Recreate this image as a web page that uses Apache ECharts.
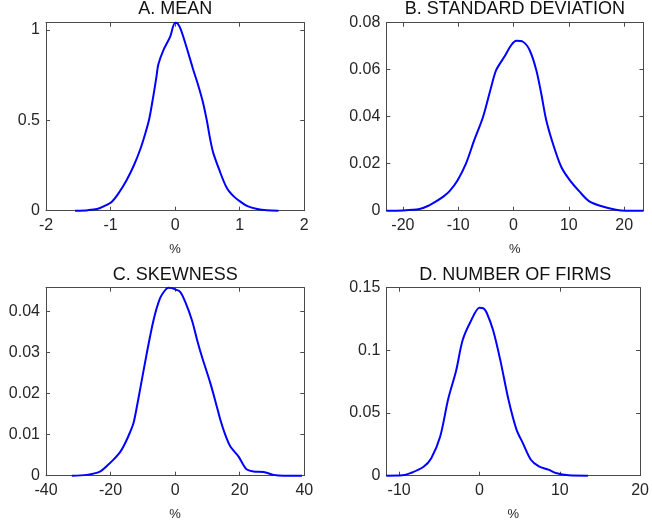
<!DOCTYPE html>
<html>
<head>
<meta charset="utf-8">
<script src="https://cdn.jsdelivr.net/npm/echarts@6/dist/echarts.min.js"></script>
<style>
  html, body { margin: 0; padding: 0; background: #fff; }
  #chart { width: 652px; height: 527px; }
</style>
</head>
<body>
<div id="chart"></div>
<script>
// Kernel density estimates of the four firm-level moments (x in %)
const meanX = [-1.55, -1.35, -1.21, -1.1, -0.98, -0.87, -0.75, -0.64, -0.54, -0.46, -0.4, -0.34, -0.29, -0.26, -0.18, -0.08, 0, 0.04, 0.09, 0.18, 0.28, 0.36, 0.43, 0.49, 0.54, 0.59, 0.7, 0.78, 0.83, 0.92, 1.01, 1.12, 1.27, 1.42, 1.6];
const meanY = [0, 0.003, 0.009, 0.025, 0.05, 0.1, 0.17, 0.25, 0.34, 0.43, 0.51, 0.63, 0.74, 0.81, 0.89, 0.96, 1.04, 1.035, 1.0, 0.9, 0.78, 0.69, 0.6, 0.5, 0.4, 0.32, 0.21, 0.14, 0.11, 0.075, 0.05, 0.025, 0.009, 0.002, 0];

const sdX = [-23, -20, -17, -15.5, -14, -12.7, -11.6, -10.1, -8.6, -7.1, -5.5, -4.0, -3.1, -1.6, -0.4, 0.5, 1.7, 2.9, 4.1, 5.0, 5.9, 7.1, 8.6, 10.1, 11.9, 13.7, 16.1, 18.5, 20.3, 23.5];
const sdY = [0, 0.0001, 0.0007, 0.002, 0.004, 0.006, 0.0082, 0.013, 0.02, 0.03, 0.04, 0.053, 0.06, 0.0657, 0.0705, 0.0723, 0.0719, 0.0684, 0.06, 0.05, 0.0387, 0.0287, 0.0188, 0.0132, 0.0082, 0.004, 0.0018, 0.0004, 0, 0];

const skewX = [-32, -27.4, -23.3, -21, -19.1, -17, -15.5, -14, -12.9, -11.8, -10.9, -8.8, -6.7, -4.7, -3, -2.1, -1, 0, 1.55, 3.1, 5.2, 6.8, 8.3, 10.9, 12.5, 14.0, 15.5, 17.1, 19.6, 21, 22.2, 24.3, 27.4, 30.5, 33.6, 39.3];
const skewY = [0, 0.0002, 0.001, 0.0025, 0.0039, 0.0058, 0.0079, 0.0105, 0.0128, 0.017, 0.0208, 0.0297, 0.0378, 0.0431, 0.0452, 0.0457, 0.0456, 0.0453, 0.0447, 0.0423, 0.0378, 0.033, 0.0289, 0.0225, 0.018, 0.0136, 0.01, 0.0071, 0.0047, 0.0028, 0.0015, 0.001, 0.0009, 0.0002, 0, 0];

const firmsX = [-11.6, -9.6, -8.6, -7.0, -6.0, -4.9, -3.9, -2.9, -2.1, -1.1, 0, 0.5, 0.9, 1.7, 2.6, 3.6, 4.6, 5.4, 6.4, 7.4, 8.6, 9.5, 11.1, 13.5];
const firmsY = [0, 0.0003, 0.002, 0.0069, 0.014, 0.031, 0.061, 0.084, 0.108, 0.123, 0.134, 0.1335, 0.13, 0.116, 0.092, 0.061, 0.037, 0.026, 0.0127, 0.0074, 0.0048, 0.0021, 0.0003, 0];

const titles = ['A. MEAN', 'B. STANDARD DEVIATION', 'C. SKEWNESS', 'D. NUMBER OF FIRMS'];

const meanXTicks = [-2, -1, 0, 1, 2];
const meanYTicks = [0, 0.5, 1];
const sdXTicks = [-20, -10, 0, 10, 20];
const sdYTicks = [0, 0.02, 0.04, 0.06, 0.08];
const skewXTicks = [-40, -20, 0, 20, 40];
const skewYTicks = [0, 0.01, 0.02, 0.03, 0.04];
const firmsXTicks = [-10, 0, 10, 20];
const firmsYTicks = [0, 0.05, 0.1, 0.15];

const FONT = '"Liberation Sans", Arial, Helvetica, sans-serif';
const AXIS_COLOR = '#4a4a4a';
const TEXT_COLOR = '#262626';

const panels = [
  { x: meanX, y: meanY, xt: meanXTicks, yt: meanYTicks, xr: [-2, 2], yr: [0, 1.04],
    box: { left: 46, top: 22.7, width: 258.3, height: 188 }, titleGap: 13.4 },
  { x: sdX, y: sdY, xt: sdXTicks, yt: sdYTicks, xr: [-23, 23.5], yr: [0, 0.08],
    box: { left: 386.3, top: 22.7, width: 257.2, height: 188 }, titleGap: 13.4 },
  { x: skewX, y: skewY, xt: skewXTicks, yt: skewYTicks, xr: [-40, 40], yr: [0, 0.0457],
    box: { left: 46, top: 287.7, width: 258.3, height: 188 }, titleGap: 12.7 },
  { x: firmsX, y: firmsY, xt: firmsXTicks, yt: firmsYTicks, xr: [-11.6, 20], yr: [0, 0.15],
    box: { left: 386.3, top: 287.7, width: 257.7, height: 188 }, titleGap: 12.7 }
];

const grid = [], xAxis = [], yAxis = [], series = [], graphic = [];

panels.forEach((p, i) => {
  grid.push(Object.assign({ show: false, containLabel: false }, p.box));

  const tick = (vals) => ({ show: true, inside: true, length: 4, customValues: vals,
    lineStyle: { color: AXIS_COLOR, width: 1 } });
  const line = { show: true, onZero: false, lineStyle: { color: AXIS_COLOR, width: 1 } };
  const label = (vals, margin) => ({ show: true, customValues: vals, margin: margin,
    color: TEXT_COLOR, fontSize: 16, fontFamily: FONT });

  // bottom axis with labels, top axis mirrors the ticks
  xAxis.push({
    type: 'value', gridIndex: i, position: 'bottom', min: p.xr[0], max: p.xr[1],
    axisLine: line, axisTick: tick(p.xt), axisLabel: label(p.xt, 7), splitLine: { show: false },
    name: '%', nameLocation: 'middle', nameGap: 32,
    nameTextStyle: { color: TEXT_COLOR, fontSize: 13, fontFamily: FONT }
  });
  xAxis.push({
    type: 'value', gridIndex: i, position: 'top', min: p.xr[0], max: p.xr[1],
    axisLine: line, axisTick: tick(p.xt), axisLabel: { show: false }, splitLine: { show: false }
  });
  // left axis with labels, right axis mirrors the ticks
  yAxis.push({
    type: 'value', gridIndex: i, position: 'left', min: p.yr[0], max: p.yr[1],
    axisLine: line, axisTick: tick(p.yt), axisLabel: label(p.yt, 6), splitLine: { show: false }
  });
  yAxis.push({
    type: 'value', gridIndex: i, position: 'right', min: p.yr[0], max: p.yr[1],
    axisLine: line, axisTick: tick(p.yt), axisLabel: { show: false }, splitLine: { show: false }
  });

  series.push({
    type: 'line', xAxisIndex: i * 2, yAxisIndex: i * 2,
    data: p.x.map((v, k) => [v, p.y[k]]),
    showSymbol: false, smooth: 0.3, clip: false,
    lineStyle: { color: '#0000ff', width: 2 }
  });

  graphic.push({
    type: 'text',
    x: p.box.left + p.box.width / 2,
    y: p.box.top - p.titleGap,
    style: { text: titles[i], fill: '#111', font: '18px ' + FONT, textAlign: 'center', textVerticalAlign: 'middle' }
  });
});

const chart = echarts.init(document.getElementById('chart'), null, { renderer: 'canvas' });
chart.setOption({ animation: false, grid, xAxis, yAxis, series, graphic });
</script>
</body>
</html>
